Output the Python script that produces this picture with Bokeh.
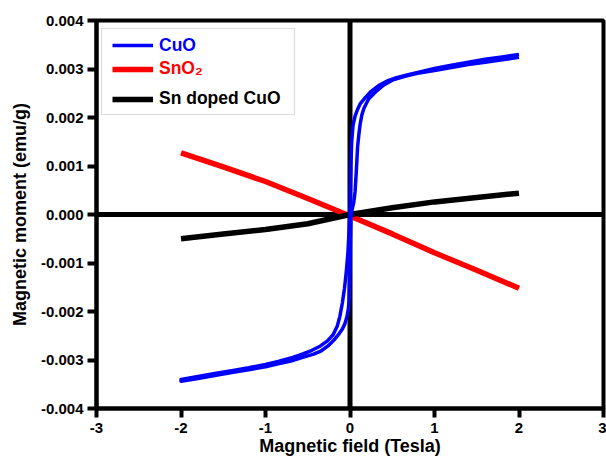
from bokeh.plotting import figure
from bokeh.models import (Span, BoxAnnotation, Legend, LegendItem, FixedTicker,
                          Range1d, NumeralTickFormatter)
from bokeh.embed import file_html
from bokeh.resources import INLINE

# CuO hysteresis loop: descending branch (+2 T -> -2 T)
cuo_desc_field = [2.0, 1.8, 1.6, 1.4, 1.2, 1.0, 0.85, 0.7, 0.55, 0.45, 0.35, 0.25,
                  0.18, 0.12, 0.09, 0.06, 0.035, 0.02, 0.01, 0.004, 0.0, -0.01,
                  -0.025, -0.045, -0.065, -0.09, -0.12, -0.15, -0.2, -0.27, -0.35,
                  -0.45, -0.55, -0.7, -0.85, -1.0, -1.2, -1.4, -1.6, -1.8, -2.0]
cuo_desc_moment = [0.00330, 0.00325, 0.00320, 0.00314, 0.00308, 0.00301, 0.00295,
                   0.00289, 0.00282, 0.00276, 0.00267, 0.00254, 0.00241, 0.00228,
                   0.00217, 0.00203, 0.00183, 0.00150, 0.00100, 0.00050, 0.00010,
                   -0.00030, -0.00080, -0.00120, -0.00152, -0.00182, -0.00210,
                   -0.00230, -0.00248, -0.00261, -0.00271, -0.00280, -0.00287,
                   -0.00296, -0.00303, -0.00309, -0.00316, -0.00322, -0.00328,
                   -0.00334, -0.00340]

# CuO hysteresis loop: ascending branch (-2 T -> +2 T)
cuo_asc_field = [-2.0, -1.8, -1.6, -1.4, -1.2, -1.0, -0.85, -0.7, -0.55, -0.43,
                 -0.34, -0.26, -0.19, -0.13, -0.09, -0.06, -0.035, -0.02, -0.01,
                 0.0, 0.005, 0.01, 0.025, 0.045, 0.06, 0.075, 0.09, 0.105, 0.12,
                 0.14, 0.165, 0.22, 0.31, 0.4, 0.5, 0.65, 0.8, 1.0, 1.2, 1.4, 1.6,
                 1.8, 2.0]
cuo_asc_moment = [-0.00344, -0.00338, -0.00332, -0.00326, -0.00320, -0.00314,
                  -0.00308, -0.00302, -0.00294, -0.00288, -0.00281, -0.00271,
                  -0.00259, -0.00246, -0.00236, -0.00225, -0.00210, -0.00195,
                  -0.00175, -0.00120, -0.00050, -0.00010, 0.00010, 0.00025,
                  0.00047, 0.00090, 0.00140, 0.00165, 0.00186, 0.00205, 0.00219,
                  0.00238, 0.00254, 0.00267, 0.00277, 0.00285, 0.00291, 0.00297,
                  0.00303, 0.00309, 0.00314, 0.00319, 0.00324]

# SnO2 (diamagnetic response)
sno2_field = [-2.0, -1.5, -1.0, -0.5, 0.0, 0.5, 1.0, 1.5, 2.0]
sno2_moment = [0.00127, 0.00098, 0.00068, 0.00033, -0.00003, -0.00040, -0.00079,
               -0.00115, -0.00152]

# Sn doped CuO (weak paramagnetic response)
doped_field = [-2.0, -1.5, -1.0, -0.5, 0.0, 0.5, 1.0, 1.5, 2.0]
doped_moment = [-0.00050, -0.00040, -0.00031, -0.00019, 0.0, 0.00014, 0.00026,
                0.00035, 0.00044]

x_ticks = [-3, -2, -1, 0, 1, 2, 3]
y_ticks = [-0.004, -0.003, -0.002, -0.001, 0.0, 0.001, 0.002, 0.003, 0.004]

FONT = "Liberation Sans"

p = figure(width=606, height=459, x_range=Range1d(-3, 3),
           y_range=Range1d(-0.004, 0.004), output_backend="svg",
           toolbar_location=None, min_border_left=96, min_border_right=3,
           min_border_top=20, min_border_bottom=51)
p.background_fill_color = "white"
p.border_fill_color = "white"
p.grid.visible = False
p.outline_line_color = "black"
p.outline_line_width = 4

for ax in (p.xaxis[0], p.yaxis[0]):
    ax.axis_line_width = 4
    ax.major_tick_line_width = 4
    ax.major_tick_out = 9
    ax.major_tick_in = 0
    ax.minor_tick_line_color = None
    ax.major_label_text_font = FONT
    ax.major_label_text_font_style = "bold"
    ax.major_label_text_font_size = "15px"
    ax.major_label_text_color = "black"
    ax.axis_label_text_font = FONT
    ax.axis_label_text_font_style = "bold"
    ax.axis_label_text_font_size = "18px"
    ax.axis_label_text_color = "black"

p.xaxis[0].ticker = FixedTicker(ticks=x_ticks)
p.yaxis[0].ticker = FixedTicker(ticks=y_ticks)
p.yaxis[0].formatter = NumeralTickFormatter(format="0.000")
p.xaxis[0].formatter = NumeralTickFormatter(format="0")
p.xaxis[0].axis_label = "Magnetic field (Tesla)"
p.yaxis[0].axis_label = "Magnetic moment (emu/g)"
p.xaxis[0].major_label_standoff = 5
p.yaxis[0].major_label_standoff = 4
p.xaxis[0].axis_label_standoff = 0
p.yaxis[0].axis_label_standoff = 8

# axes crossing through the origin
p.add_layout(Span(location=0, dimension="height", line_color="black",
                  line_width=5, level="underlay"))
p.add_layout(Span(location=0, dimension="width", line_color="black",
                  line_width=5, level="underlay"))

r_sno2 = p.line(sno2_field, sno2_moment, line_color="#ff0000", line_width=5.5)
r_doped = p.line(doped_field, doped_moment, line_color="black", line_width=5.5)
r_cuo = p.line(cuo_desc_field + cuo_asc_field, cuo_desc_moment + cuo_asc_moment,
               line_color="#0000ff", line_width=3.5, line_join="round")

# legend frame
p.add_layout(BoxAnnotation(left=-2.941, right=-0.657, top=0.003835,
                           bottom=0.002062, fill_alpha=0, line_color="#8c8c8c",
                           line_width=1.2, level="overlay"))

def add_entry(label, renderer, color, loc):
    leg = Legend(items=[LegendItem(label=label, renderers=[renderer])],
                 location=loc, padding=0, margin=0, glyph_width=41,
                 glyph_height=20, label_height=20, label_standoff=6,
                 label_text_font=FONT, label_text_font_style="bold",
                 label_text_font_size="17.5px", label_text_color=color,
                 border_line_color=None, background_fill_alpha=0)
    p.add_layout(leg)

add_entry("CuO", r_cuo, "#0000ff", (16, 352.5))
add_entry("SnO\u2082", r_sno2, "#ff0000", (16, 328.7))
add_entry("Sn doped CuO", r_doped, "black", (16, 298.7))

open("out.html", "w").write(file_html(p, INLINE))
